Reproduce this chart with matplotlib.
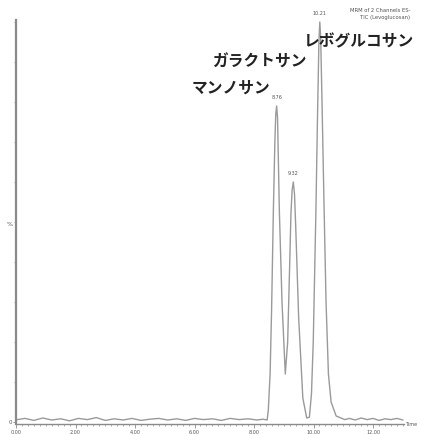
import matplotlib
matplotlib.use("Agg")
import matplotlib.pyplot as plt
from matplotlib.ticker import MultipleLocator, FormatStrFormatter

# Chromatogram trace (time in min, relative intensity %)
base_pre_time = [0.05, 0.3, 0.6, 0.9, 1.2, 1.5, 1.8, 2.1, 2.4, 2.7, 3.0, 3.3, 3.6, 3.9,
                 4.2, 4.5, 4.8, 5.1, 5.4, 5.7, 6.0, 6.3, 6.6, 6.9, 7.2, 7.5, 7.8, 8.1, 8.3]
base_pre_int = [0.6, 0.9, 0.4, 1.0, 0.5, 0.8, 0.3, 0.9, 0.6, 1.1, 0.4, 0.8, 0.5, 0.9,
                0.4, 0.7, 0.9, 0.5, 0.8, 0.4, 0.9, 0.6, 0.8, 0.4, 0.9, 0.6, 0.8, 0.5, 0.7]
peak_time = [8.44, 8.48, 8.54, 8.59, 8.65, 8.70, 8.73, 8.76, 8.79, 8.85, 8.94, 9.05,
             9.13, 9.20, 9.24, 9.28, 9.32, 9.36, 9.40, 9.50, 9.64, 9.77, 9.86, 9.93,
             9.99, 10.08, 10.13, 10.18, 10.21, 10.24, 10.29, 10.35, 10.42, 10.50,
             10.59, 10.76, 11.05]
peak_int = [0.5, 3, 12, 28, 53, 70, 77, 79, 76, 53, 30, 12,
            20, 40, 52, 58, 60, 57, 49, 26, 6, 1, 1.2, 7,
            20, 53, 75, 95, 100, 96, 78, 55, 30, 12,
            5, 1.5, 0.6]
base_post_time = [11.2, 11.4, 11.6, 11.8, 12.0, 12.2, 12.4, 12.6, 12.8, 13.0]
base_post_int = [0.9, 0.5, 1.0, 0.6, 0.9, 0.4, 0.8, 0.6, 0.9, 0.5]

apex_times = [8.76, 9.32, 10.21]
apex_heights = [79, 60, 100]
apex_labels = ["8.76", "9.32", "10.21"]

compound_names = ["マンノサン", "ガラクトサン", "レボグルコサン"]

times = base_pre_time + peak_time + base_post_time
ints = base_pre_int + peak_int + base_post_int

W, H = 421, 434
fig = plt.figure(figsize=(W / 100, H / 100), dpi=100)
fig.patch.set_facecolor("white")
left, bottom, right, top = 16, 424, 404, 20
ax = fig.add_axes([left / W, (H - bottom) / H, (right - left) / W, (bottom - top) / H])
ax.plot(times, ints, color="#9a9a9a", lw=1.0)
ax.set_xlim(0, 13.04)
ax.set_ylim(-0.5, 100.5)

for s in ["top", "right"]:
    ax.spines[s].set_visible(False)
ax.spines["left"].set_color("#8a8a8a")
ax.spines["left"].set_linewidth(1.6)
ax.spines["bottom"].set_color("#8a8a8a")
ax.spines["bottom"].set_linewidth(1.0)

ax.xaxis.set_major_locator(MultipleLocator(2))
ax.xaxis.set_minor_locator(MultipleLocator(0.2))
ax.xaxis.set_major_formatter(FormatStrFormatter("%.2f"))
ax.tick_params(axis="x", which="major", length=3, width=0.6, color="#8a8a8a",
               labelsize=3.5, labelcolor="#555555", pad=1)
ax.tick_params(axis="x", which="minor", length=1.5, width=0.5, color="#8a8a8a")
ax.set_yticks([0])
ax.set_yticklabels(["0"])
ax.yaxis.set_minor_locator(MultipleLocator(10))
ax.tick_params(axis="y", which="major", length=2, width=0.6, color="#8a8a8a",
               labelsize=4, labelcolor="#555555", pad=1)
ax.tick_params(axis="y", which="minor", length=1.5, width=0.5, color="#8a8a8a")

fig.text(10 / W, 1 - 225 / H, "%", fontsize=4.5, color="#555555", ha="center", va="center")
fig.text(405 / W, 1 - 424 / H, "Time", fontsize=3.5, color="#555555", ha="left", va="center")
fig.text(410 / W, 1 - 10 / H, "MRM of 2 Channels ES-", fontsize=3.8, color="#555555",
         ha="right", va="center")
fig.text(410 / W, 1 - 18 / H, "TIC (Levoglucosan)", fontsize=3.8, color="#555555",
         ha="right", va="center")

for t, h, lab in zip(apex_times, apex_heights, apex_labels):
    ax.annotate(lab, (t, h), xytext=(0, 4), textcoords="offset points", ha="center",
                va="bottom", fontsize=3.5, color="#555555")

jp = ["Noto Sans CJK JP", "DejaVu Sans"]
name_pos = [(231, 88), (259, 62), (359, 41)]
for name, (px, py) in zip(compound_names, name_pos):
    fig.text(px / W, 1 - py / H, name, family=jp, fontsize=11.3, fontweight="bold",
             color="#222222", ha="center", va="center")

fig.savefig("out.png", dpi=100)
